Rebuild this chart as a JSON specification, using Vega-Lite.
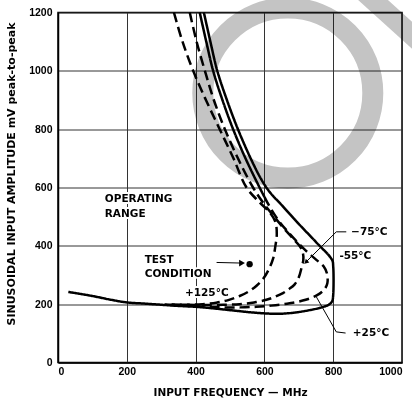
{
  "$schema": "https://vega.github.io/schema/vega-lite/v6.json",
  "width": 344,
  "height": 350,
  "autosize": {"type": "none"},
  "padding": {"left": 58, "top": 12.5, "right": 10, "bottom": 38},
  "background": "white",
  "config": {
    "view": {"stroke": "black", "strokeWidth": 1.5},
    "axis": {
      "labelFont": "Liberation Sans", "labelFontWeight": "bold", "labelFontSize": 10.5, "labelColor": "black",
      "titleFont": "DejaVu Sans", "titleFontWeight": "bold", "titleFontSize": 11, "titleColor": "black",
      "grid": true, "gridColor": "#333333", "gridWidth": 1, "ticks": false,
      "domainColor": "black", "domainWidth": 1.5, "format": "d"
    }
  },
  "datasets": {
    "curves": [
      {"c":"-55°C","i":0,"f":424,"a":1200},{"c":"-55°C","i":1,"f":443,"a":1100},{"c":"-55°C","i":2,"f":463,"a":1000},{"c":"-55°C","i":3,"f":491,"a":900},{"c":"-55°C","i":4,"f":523,"a":800},{"c":"-55°C","i":5,"f":560,"a":700},{"c":"-55°C","i":6,"f":590,"a":630},{"c":"-55°C","i":7,"f":615,"a":585},{"c":"-55°C","i":8,"f":650,"a":540},{"c":"-55°C","i":9,"f":700,"a":475},{"c":"-55°C","i":10,"f":750,"a":413},{"c":"-55°C","i":11,"f":797,"a":351},{"c":"-55°C","i":12,"f":800,"a":330},{"c":"-55°C","i":13,"f":800,"a":232},{"c":"-55°C","i":14,"f":797,"a":210},{"c":"-55°C","i":15,"f":787,"a":198},{"c":"-55°C","i":16,"f":760,"a":187},{"c":"-55°C","i":17,"f":720,"a":177},{"c":"-55°C","i":18,"f":680,"a":170},{"c":"-55°C","i":19,"f":640,"a":167},{"c":"-55°C","i":20,"f":606,"a":168},{"c":"-55°C","i":21,"f":560,"a":172},{"c":"-55°C","i":22,"f":520,"a":177},{"c":"-55°C","i":23,"f":480,"a":182},{"c":"-55°C","i":24,"f":440,"a":187},{"c":"-55°C","i":25,"f":400,"a":191},{"c":"-55°C","i":26,"f":350,"a":194},{"c":"-55°C","i":27,"f":300,"a":198},{"c":"-55°C","i":28,"f":250,"a":202},{"c":"-55°C","i":29,"f":200,"a":206},{"c":"-55°C","i":30,"f":150,"a":216},{"c":"-55°C","i":31,"f":100,"a":228},{"c":"-55°C","i":32,"f":30,"a":242},
      {"c":"+25°C upper","i":0,"f":412,"a":1200},{"c":"+25°C upper","i":1,"f":431,"a":1100},{"c":"+25°C upper","i":2,"f":451,"a":1000},{"c":"+25°C upper","i":3,"f":478,"a":900},{"c":"+25°C upper","i":4,"f":509,"a":800},{"c":"+25°C upper","i":5,"f":545,"a":700},{"c":"+25°C upper","i":6,"f":586,"a":600},{"c":"+25°C upper","i":7,"f":600,"a":568},
      {"c":"+25°C","i":0,"f":600,"a":568},{"c":"+25°C","i":1,"f":615,"a":535},{"c":"+25°C","i":2,"f":644,"a":482},{"c":"+25°C","i":3,"f":673,"a":442},{"c":"+25°C","i":4,"f":700,"a":408},{"c":"+25°C","i":5,"f":722,"a":382},{"c":"+25°C","i":6,"f":751,"a":352},{"c":"+25°C","i":7,"f":772,"a":330},{"c":"+25°C","i":8,"f":782,"a":305},{"c":"+25°C","i":9,"f":783,"a":272},{"c":"+25°C","i":10,"f":774,"a":250},{"c":"+25°C","i":11,"f":752,"a":230},{"c":"+25°C","i":12,"f":720,"a":215},{"c":"+25°C","i":13,"f":673,"a":203},{"c":"+25°C","i":14,"f":620,"a":195},{"c":"+25°C","i":15,"f":577,"a":191},{"c":"+25°C","i":16,"f":530,"a":189},{"c":"+25°C","i":17,"f":480,"a":189},{"c":"+25°C","i":18,"f":430,"a":191},{"c":"+25°C","i":19,"f":380,"a":194},{"c":"+25°C","i":20,"f":330,"a":197},
      {"c":"−75°C","i":0,"f":383,"a":1200},{"c":"−75°C","i":1,"f":403,"a":1100},{"c":"−75°C","i":2,"f":427,"a":1000},{"c":"−75°C","i":3,"f":453,"a":900},{"c":"−75°C","i":4,"f":485,"a":800},{"c":"−75°C","i":5,"f":523,"a":700},{"c":"−75°C","i":6,"f":567,"a":600},{"c":"−75°C","i":7,"f":595,"a":550},{"c":"−75°C","i":8,"f":625,"a":505},{"c":"−75°C","i":9,"f":655,"a":462},{"c":"−75°C","i":10,"f":683,"a":425},{"c":"−75°C","i":11,"f":705,"a":395},{"c":"−75°C","i":12,"f":712,"a":375},{"c":"−75°C","i":13,"f":713,"a":350},{"c":"−75°C","i":14,"f":708,"a":325},{"c":"−75°C","i":15,"f":700,"a":292},{"c":"−75°C","i":16,"f":688,"a":268},{"c":"−75°C","i":17,"f":672,"a":252},{"c":"−75°C","i":18,"f":654,"a":238},{"c":"−75°C","i":19,"f":630,"a":225},{"c":"−75°C","i":20,"f":606,"a":215},{"c":"−75°C","i":21,"f":570,"a":206},{"c":"−75°C","i":22,"f":528,"a":200},{"c":"−75°C","i":23,"f":480,"a":198},{"c":"−75°C","i":24,"f":430,"a":197},{"c":"−75°C","i":25,"f":380,"a":198},{"c":"−75°C","i":26,"f":330,"a":199},
      {"c":"+125°C","i":0,"f":337,"a":1200},{"c":"+125°C","i":1,"f":362,"a":1100},{"c":"+125°C","i":2,"f":393,"a":1000},{"c":"+125°C","i":3,"f":430,"a":900},{"c":"+125°C","i":4,"f":470,"a":800},{"c":"+125°C","i":5,"f":510,"a":700},{"c":"+125°C","i":6,"f":548,"a":600},{"c":"+125°C","i":7,"f":585,"a":550},{"c":"+125°C","i":8,"f":615,"a":515},{"c":"+125°C","i":9,"f":632,"a":482},{"c":"+125°C","i":10,"f":636,"a":440},{"c":"+125°C","i":11,"f":632,"a":400},{"c":"+125°C","i":12,"f":625,"a":355},{"c":"+125°C","i":13,"f":613,"a":320},{"c":"+125°C","i":14,"f":597,"a":288},{"c":"+125°C","i":15,"f":578,"a":264},{"c":"+125°C","i":16,"f":555,"a":244},{"c":"+125°C","i":17,"f":528,"a":228},{"c":"+125°C","i":18,"f":495,"a":214},{"c":"+125°C","i":19,"f":460,"a":205},{"c":"+125°C","i":20,"f":420,"a":200},{"c":"+125°C","i":21,"f":383,"a":198},{"c":"+125°C","i":22,"f":340,"a":198},{"c":"+125°C","i":23,"f":300,"a":199}
    ],
    "leaders": [
      {"l":"t75","i":0,"f":838,"a":448},{"l":"t75","i":1,"f":809,"a":448},{"l":"t75","i":2,"f":717,"a":340},
      {"l":"t25","i":0,"f":836,"a":101},{"l":"t25","i":1,"f":809,"a":105},{"l":"t25","i":2,"f":751,"a":225},
      {"l":"arrow","i":0,"f":461,"a":343},{"l":"arrow","i":1,"f":530,"a":341}
    ],
    "labels": [
      {"t":"OPERATING","f":136,"a":562},{"t":"RANGE","f":136,"a":510},
      {"t":"TEST","f":252,"a":350},{"t":"CONDITION","f":252,"a":305},
      {"t":"+125°C","f":369,"a":240},{"t":"−75°C","f":852,"a":446},
      {"t":"-55°C","f":818,"a":364},{"t":"+25°C","f":857,"a":101}
    ],
    "heads": [{"f":535,"a":341}],
    "heads75": [{"f":721,"a":344}],
    "dot": [{"f":557,"a":337}],
    "ring": [{"f":668,"a":924}],
    "stripe": [{"f":819,"a":1346,"f2":1109,"a2":1037}]
  },
  "encoding": {
    "x": {"field": "f", "type": "quantitative", "scale": {"domain": [0, 1000], "nice": false, "zero": false},
          "axis": {"values": [0,200,400,600,800,1000], "title": "INPUT FREQUENCY — MHz", "titleFontSize": 10.5, "labelPadding": 4, "titleY": 25, "titleBaseline": "top"}},
    "y": {"field": "a", "type": "quantitative", "scale": {"domain": [0, 1200], "nice": false, "zero": false},
          "axis": {"values": [0,200,400,600,800,1000,1200], "title": "SINUSOIDAL INPUT AMPLITUDE mV peak-to-peak", "labelPadding": 6, "titleX": -47, "titleY": 161, "titleBaseline": "middle", "titleAlign": "center", "titleAngle": 270}}
  },
  "layer": [
    {
      "data": {"name": "curves"},
      "mark": {"type": "line", "color": "black", "strokeWidth": 2.5, "interpolate": "catmull-rom", "strokeCap": "butt"},
      "encoding": {
        "detail": {"field": "c"},
        "order": {"field": "i", "type": "quantitative"},
        "strokeDash": {"field": "c", "type": "nominal", "legend": null,
          "scale": {"domain": ["-55°C", "+25°C upper", "+25°C", "−75°C", "+125°C"], "range": [[1,0],[1,0],[10,5],[10,5],[10,5]]}}
      }
    },
    {
      "data": {"name": "leaders"},
      "mark": {"type": "line", "color": "black", "strokeWidth": 1},
      "encoding": {"detail": {"field": "l"}, "order": {"field": "i", "type": "quantitative"}}
    },
    {
      "data": {"name": "heads"},
      "mark": {"type": "point", "shape": "triangle-right", "filled": true, "color": "black", "size": 45, "opacity": 1}
    },
    {
      "data": {"name": "heads75"},
      "mark": {"type": "point", "shape": "triangle-up", "angle": 225, "filled": true, "color": "black", "size": 25, "opacity": 1}
    },
    {
      "data": {"name": "dot"},
      "mark": {"type": "point", "shape": "circle", "filled": true, "color": "black", "size": 40, "opacity": 1}
    },
    {
      "data": {"name": "labels"},
      "mark": {"type": "text", "align": "left", "baseline": "middle", "font": "DejaVu Sans", "fontWeight": "bold", "fontSize": 10.5, "stroke": "white", "strokeWidth": 4, "fill": "white"},
      "encoding": {"text": {"field": "t"}}
    },
    {
      "data": {"name": "labels"},
      "mark": {"type": "text", "align": "left", "baseline": "middle", "font": "DejaVu Sans", "fontWeight": "bold", "fontSize": 10.5, "color": "black"},
      "encoding": {"text": {"field": "t"}}
    },
    {
      "data": {"name": "ring"},
      "mark": {"type": "point", "shape": "circle", "filled": false, "stroke": "#c4c4c4", "strokeWidth": 21, "size": 28900, "opacity": 1, "clip": false, "blend": "multiply"}
    },
    {
      "data": {"name": "stripe"},
      "mark": {"type": "rule", "color": "#c4c4c4", "strokeWidth": 20, "strokeCap": "butt", "clip": false, "blend": "multiply"},
      "encoding": {"x2": {"field": "f2"}, "y2": {"field": "a2"}}
    }
  ]
}
